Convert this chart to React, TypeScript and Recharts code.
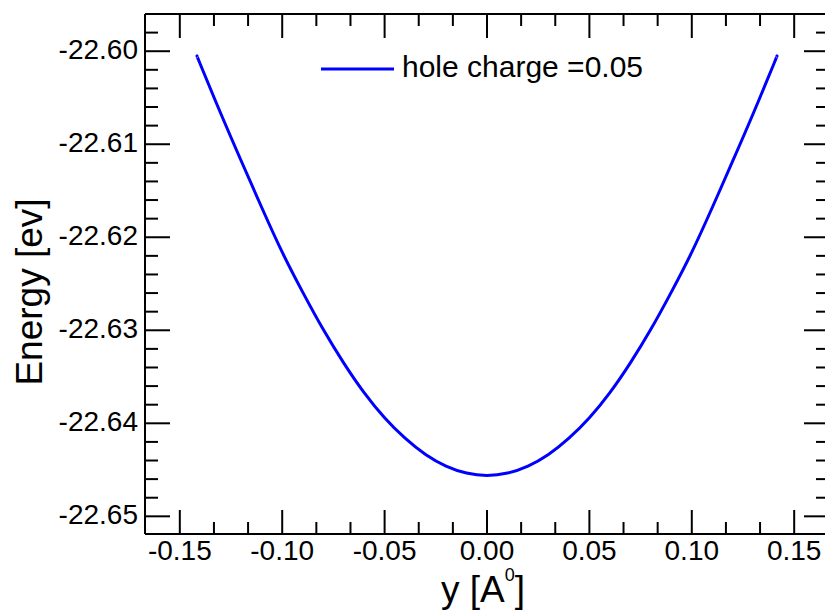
import { Label, Legend, Line, LineChart, XAxis, YAxis } from 'recharts'

// displacement y [A0] and total energy [ev]
const yPos = [
    -0.1414, -0.14, -0.13, -0.12, -0.11, -0.10, -0.09, -0.08, -0.07, -0.06, -0.05, -0.04, -0.03, -0.02, -0.01,
    0,
    0.01, 0.02, 0.03, 0.04, 0.05, 0.06, 0.07, 0.08, 0.09, 0.10, 0.11, 0.12, 0.13, 0.14, 0.1414,
]
const energy = [
    -22.6006, -22.6014, -22.6067, -22.6118, -22.6168, -22.6216, -22.6259, -22.6299, -22.6335, -22.6367, -22.6394, -22.6416, -22.64335, -22.6446, -22.64535,
    -22.6456,
    -22.64535, -22.6446, -22.64335, -22.6416, -22.6394, -22.6367, -22.6335, -22.6299, -22.6259, -22.6216, -22.6168, -22.6118, -22.6067, -22.6014, -22.6006,
]

const xMajor = [-0.15, -0.1, -0.05, 0, 0.05, 0.1, 0.15]
const yMajor = [-22.65, -22.64, -22.63, -22.62, -22.61, -22.6]
const legendLabel = 'hole charge =0.05'

const data = yPos.map((y, i) => ({ y, e: energy[i] }))

// minor ticks: 2 between x majors, 4 between y majors (+ one above the top major)
const xMinor = xMajor.slice(0, -1).flatMap((v) => [v + 0.05 / 3, v + 0.1 / 3])
const yMinor = [...yMajor.slice(0, -1).flatMap((v) => [v + 0.002, v + 0.004, v + 0.006, v + 0.008]), -22.598]
const xTicks = [...xMajor, ...xMinor].sort((a, b) => a - b)
const yTicks = [...yMajor, ...yMinor].sort((a, b) => a - b)

const FONT = '"Liberation Sans", Arial, sans-serif'
const isMajor = (v: number, list: number[]) => list.some((m) => Math.abs(m - v) < 1e-6)

const BottomTick = ({ x, y, payload }: any) => {
    const major = isMajor(payload.value, xMajor)
    return (
        <g>
            <line x1={x} x2={x} y1={y} y2={y - (major ? 24 : 12)} stroke="#000" strokeWidth={2} />
            {major && (
                <text x={x} y={y + 26} textAnchor="middle" fontSize={28} fontFamily={FONT} fill="#000">
                    {payload.value.toFixed(2)}
                </text>
            )}
        </g>
    )
}

const TopTick = ({ x, y, payload }: any) => {
    const major = isMajor(payload.value, xMajor)
    return <line x1={x} x2={x} y1={y} y2={y + (major ? 24 : 12)} stroke="#000" strokeWidth={2} />
}

const LeftTick = ({ x, y, payload }: any) => {
    const major = isMajor(payload.value, yMajor)
    return (
        <g>
            <line x1={x} x2={x + (major ? 25 : 13)} y1={y} y2={y} stroke="#000" strokeWidth={2} />
            {major && (
                <text x={x - 7} y={y + 8} textAnchor="end" fontSize={28} fontFamily={FONT} fill="#000">
                    {payload.value.toFixed(2)}
                </text>
            )}
        </g>
    )
}

const RightTick = ({ x, y, payload }: any) => {
    const major = isMajor(payload.value, yMajor)
    return <line x1={x} x2={x - (major ? 25 : 13)} y1={y} y2={y} stroke="#000" strokeWidth={2} />
}

const LegendBox = () => (
    <div style={{ position: 'relative', width: 340, height: 34 }}>
        <svg width={76} height={6} style={{ position: 'absolute', left: 0, top: 14 }}>
            <line x1={1} x2={74} y1={3} y2={3} stroke="#0000ff" strokeWidth={3} />
        </svg>
        <span
            style={{
                position: 'absolute',
                left: 82,
                top: 0,
                fontFamily: FONT,
                fontSize: 30,
                lineHeight: '30px',
                whiteSpace: 'nowrap',
                color: '#000',
            }}
        >
            {legendLabel}
        </span>
    </div>
)

const axisLine = { stroke: '#000', strokeWidth: 2 }

const App = () => {
    return (
        <div style={{ position: 'absolute', left: 0, top: 0, width: 825, height: 610, overflow: 'hidden', background: '#fff' }}>
            <LineChart width={840} height={610} data={data} margin={{ top: 13, right: 10, bottom: 0, left: 0 }}>
                <XAxis
                    xAxisId="bottom"
                    dataKey="y"
                    type="number"
                    domain={[-0.167, 0.167]}
                    allowDataOverflow
                    ticks={xTicks}
                    interval={0}
                    tickSize={0}
                    tickMargin={0}
                    tick={<BottomTick />}
                    height={76}
                    axisLine={axisLine}
                >
                    <Label
                        content={() => (
                            <text x={483} y={602} textAnchor="middle" fontSize={37} fontFamily={FONT} fill="#000">
                                y [A
                                <tspan dy={-21} fontSize={18}>0</tspan>
                                <tspan dy={21}>]</tspan>
                            </text>
                        )}
                    />
                </XAxis>
                <XAxis
                    xAxisId="top"
                    orientation="top"
                    dataKey="y"
                    type="number"
                    domain={[-0.167, 0.167]}
                    allowDataOverflow
                    ticks={xTicks}
                    interval={0}
                    tickSize={0}
                    tickMargin={0}
                    tick={<TopTick />}
                    height={1}
                    axisLine={axisLine}
                />
                <YAxis
                    yAxisId="left"
                    type="number"
                    domain={[-22.6519, -22.596]}
                    allowDataOverflow
                    ticks={yTicks}
                    interval={0}
                    tickSize={0}
                    tickMargin={0}
                    tick={<LeftTick />}
                    width={145}
                    axisLine={axisLine}
                >
                    <Label
                        content={() => (
                            <text
                                x={42}
                                y={292}
                                transform="rotate(-90 42 292)"
                                textAnchor="middle"
                                fontSize={37}
                                fontFamily={FONT}
                                fill="#000"
                            >
                                Energy [ev]
                            </text>
                        )}
                    />
                </YAxis>
                <YAxis
                    yAxisId="right"
                    orientation="right"
                    type="number"
                    domain={[-22.6519, -22.596]}
                    allowDataOverflow
                    ticks={yTicks}
                    interval={0}
                    tickSize={0}
                    tickMargin={0}
                    tick={<RightTick />}
                    width={1}
                    axisLine={false}
                />
                <Legend
                    layout="horizontal"
                    verticalAlign="middle"
                    align="center"
                    content={<LegendBox />}
                    wrapperStyle={{ left: 320, top: 52, width: 'auto', height: 'auto' }}
                />
                <Line
                    xAxisId="bottom"
                    yAxisId="left"
                    type="natural"
                    dataKey="e"
                    stroke="#0000ff"
                    strokeWidth={3}
                    dot={false}
                    activeDot={false}
                    isAnimationActive={false}
                />
            </LineChart>
        </div>
    )
}

export default App
